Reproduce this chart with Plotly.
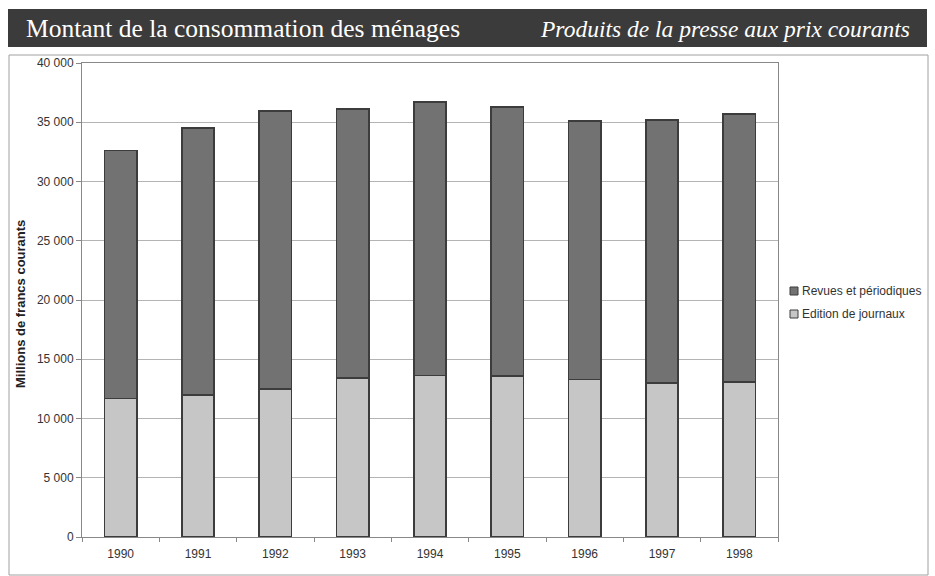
import plotly.graph_objects as go

# Consommation des ménages en produits de la presse (millions de francs courants)
annees = ["1990", "1991", "1992", "1993", "1994", "1995", "1996", "1997", "1998"]
edition_journaux = [11700, 12000, 12500, 13400, 13650, 13600, 13300, 13000, 13100]
revues_periodiques = [20900, 22500, 23450, 22700, 23050, 22700, 21800, 22200, 22600]
y_ticks = [0, 5000, 10000, 15000, 20000, 25000, 30000, 35000, 40000]
y_tick_labels = ["0", "5 000", "10 000", "15 000", "20 000", "25 000", "30 000", "35 000", "40 000"]

L, R, T, B = 82, 157, 63, 39
W, H = 935, 576
pw, ph = W - L - R, H - T - B

COL_REVUES = "#727272"
COL_EDITION = "#c6c6c6"
COL_EDGE = "#3c3c3c"


def px_x(p):
    return (p - L) / pw


def px_y(p):
    return (H - B - p) / ph


fig = go.Figure()
fig.add_trace(go.Bar(
    x=annees, y=edition_journaux, name="Edition de journaux",
    marker=dict(color=COL_EDITION, line=dict(color=COL_EDGE, width=1.5)),
))
fig.add_trace(go.Bar(
    x=annees, y=revues_periodiques, name="Revues et périodiques",
    marker=dict(color=COL_REVUES, line=dict(color=COL_EDGE, width=1.5)),
))

shapes = [
    # bandeau de titre
    dict(type="rect", xref="paper", yref="paper",
         x0=px_x(8), x1=px_x(927), y0=px_y(47), y1=px_y(9),
         fillcolor="#3b3b3b", line=dict(width=0), layer="below"),
    # cadre du graphique
    dict(type="rect", xref="paper", yref="paper",
         x0=px_x(9), x1=px_x(928), y0=px_y(575), y1=px_y(55),
         fillcolor="rgba(0,0,0,0)", line=dict(color="#a0a0a0", width=1)),
]

annotations = [
    dict(text="Montant de la consommation des ménages", xref="paper", yref="paper",
         x=px_x(24), y=px_y(29), xanchor="left", yanchor="middle", showarrow=False,
         font=dict(family="Liberation Serif", size=25.5, color="white")),
    dict(text="<i>Produits de la presse aux prix courants</i>", xref="paper", yref="paper",
         x=px_x(912), y=px_y(29), xanchor="right", yanchor="middle", showarrow=False,
         font=dict(family="Liberation Serif", size=23.5, color="white")),
    dict(text="<b>Millions de francs courants</b>", xref="paper", yref="paper",
         x=px_x(20), y=px_y(304), xanchor="center", yanchor="middle", textangle=-90,
         showarrow=False, font=dict(family="Arial, Liberation Sans", size=13, color="#222")),
]

# légende
legend_items = [("Revues et périodiques", COL_REVUES, 291), ("Edition de journaux", COL_EDITION, 314)]
for label, col, yc in legend_items:
    shapes.append(dict(type="rect", xref="paper", yref="paper",
                       x0=px_x(790), x1=px_x(798), y0=px_y(yc + 4), y1=px_y(yc - 4),
                       fillcolor=col, line=dict(color=COL_EDGE, width=1)))
    annotations.append(dict(text=label, xref="paper", yref="paper",
                            x=px_x(800), y=px_y(yc), xanchor="left", yanchor="middle",
                            showarrow=False,
                            font=dict(family="Arial, Liberation Sans", size=12, color="#333")))

fig.update_layout(
    width=W, height=H,
    margin=dict(l=L, r=R, t=T, b=B, autoexpand=False),
    paper_bgcolor="white", plot_bgcolor="white",
    barmode="stack", bargap=0.58,
    font=dict(family="Arial, Liberation Sans", size=12, color="#333"),
    shapes=shapes, annotations=annotations,
    showlegend=False,
)
fig.update_xaxes(type="category", showgrid=False, showline=True, linecolor="#888",
                 linewidth=1, mirror=True, ticks="outside", tickson="boundaries",
                 ticklen=4, tickcolor="#888", ticklabelstandoff=6,
                 tickfont=dict(size=12, color="#333"))
fig.update_yaxes(range=[0, 40000], tickvals=y_ticks, ticktext=y_tick_labels,
                 showgrid=True, gridcolor="#b4b4b4", gridwidth=1,
                 showline=True, linecolor="#888", linewidth=1, mirror=True,
                 ticks="outside", ticklen=5, tickcolor="#888",
                 tickfont=dict(size=12, color="#333"), zeroline=False)

fig.write_html("out.html")
